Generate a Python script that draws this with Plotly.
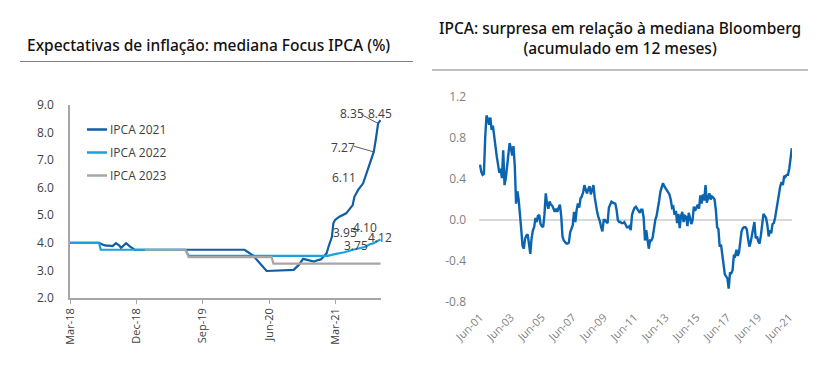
import plotly.graph_objects as go
import pandas as pd

# page body has an 8px margin: the figure is shrunk and all positions are offset by it
OFF = 8
W, H = 830 - 2 * OFF, 377 - 2 * OFF

# ---------------- Left chart data (Focus IPCA medians, %) ----------------
d2021 = ["2018-03-02", "2018-06-29", "2018-07-13", "2018-07-27", "2018-08-10", "2018-08-24",
         "2018-09-07", "2018-09-21", "2018-09-28", "2018-10-05", "2018-10-19", "2018-11-02",
         "2018-11-16", "2018-11-23", "2020-02-21", "2020-03-27", "2020-04-24", "2020-05-22",
         "2020-09-11", "2020-10-02", "2020-10-20", "2020-11-04", "2020-11-18", "2020-12-04",
         "2020-12-15", "2021-01-01", "2021-01-12", "2021-01-25", "2021-02-02", "2021-02-16",
         "2021-02-22", "2021-03-01", "2021-03-19", "2021-04-16", "2021-05-13", "2021-05-20",
         "2021-06-04", "2021-06-25", "2021-07-09", "2021-07-28", "2021-08-08", "2021-08-16",
         "2021-08-26", "2021-09-05"]
v2021 = [4.00, 4.00, 3.94, 3.90, 3.90, 3.88,
         3.99, 3.90, 3.82, 3.88, 3.99, 3.88,
         3.78, 3.75, 3.75, 3.54, 3.26, 2.98,
         3.02, 3.20, 3.42, 3.38, 3.34, 3.32,
         3.36, 3.40, 3.50, 3.62, 3.86, 4.22,
         4.71, 4.83, 4.95, 5.07, 5.37, 5.67,
         5.91, 6.16, 6.52, 7.06, 7.30, 7.72,
         8.33, 8.45]

d2022 = ["2018-03-02", "2018-06-29", "2018-07-06", "2019-06-21", "2019-07-05", "2021-01-08",
         "2021-01-29", "2021-03-05", "2021-04-09", "2021-05-14", "2021-06-11", "2021-07-02",
         "2021-07-23", "2021-08-06", "2021-08-20", "2021-09-05"]
v2022 = [4.00, 4.00, 3.75, 3.75, 3.53, 3.52,
         3.53, 3.60, 3.66, 3.75, 3.82, 3.85,
         3.95, 3.98, 4.05, 4.12]

d2023 = ["2019-01-04", "2019-06-21", "2019-07-05", "2020-06-12", "2020-06-19", "2021-09-05"]
v2023 = [3.75, 3.75, 3.48, 3.48, 3.25, 3.25]

series_names = ["IPCA 2021", "IPCA 2022", "IPCA 2023"]
left_ticks = ["2018-03-01", "2018-12-01", "2019-09-01", "2020-06-01", "2021-03-01"]

# ---------------- Right chart data (monthly surprise, p.p.) ----------------
surprise = [
    0.54, 0.47, 0.44, 0.45, 0.80, 1.02, 0.99,                                   # 2001 Jun-Dec
    0.93, 1.00, 0.88, 0.92, 0.80, 0.70, 0.62, 0.54, 0.46, 0.50, 0.41, 0.68,     # 2002
    0.34, 0.41, 0.52, 0.62, 0.75, 0.70, 0.63, 0.72, 0.52, 0.16, 0.28, 0.20,     # 2003
    0.08, -0.10, -0.25, -0.28, -0.18, -0.15, -0.14, -0.23, -0.33, -0.18, -0.10, -0.07,  # 2004
    0.02, -0.02, 0.04, 0.05, -0.04, -0.06, -0.07, 0.05, 0.26, 0.16, 0.11, 0.18,  # 2005
    0.15, 0.14, 0.10, 0.08, 0.11, 0.08, 0.12, 0.15, 0.04, -0.16, -0.20, -0.22,   # 2006
    -0.23, -0.23, -0.22, -0.12, -0.08, -0.05, 0.08, -0.02, 0.10, 0.16, 0.12, 0.21,  # 2007
    0.23, 0.27, 0.34, 0.29, 0.26, 0.30, 0.33, 0.25, 0.31, 0.34, 0.22, 0.12,     # 2008
    0.07, 0.02, -0.01, -0.07, -0.11, 0.00, 0.00, -0.02, -0.03, 0.12, 0.16, 0.18,  # 2009
    0.17, 0.16, 0.16, 0.10, 0.00, -0.02, -0.02, -0.03, -0.03, -0.02, -0.05, -0.07,  # 2010
    -0.07, -0.06, -0.10, 0.05, 0.09, 0.12, 0.13, 0.11, 0.09, 0.07, 0.10, 0.10,  # 2011
    0.02, -0.20, -0.10, -0.22, -0.28, -0.20, -0.20, -0.17, -0.07, 0.00, 0.04, 0.10,  # 2012
    0.19, 0.28, 0.33, 0.36, 0.33, 0.31, 0.30, 0.28, 0.25, 0.20, 0.12, 0.13,     # 2013
    0.05, 0.09, -0.03, 0.06, -0.08, 0.04, 0.08, -0.02, 0.04, 0.03, -0.06, 0.07,  # 2014
    0.01, -0.04, 0.00, 0.13, 0.09, 0.13, 0.15, 0.11, 0.24, 0.16, 0.25, 0.19,    # 2015
    0.34, 0.17, 0.22, 0.26, 0.20, 0.23, 0.22, 0.20, 0.10, -0.07, -0.09, -0.26,  # 2016
    -0.24, -0.34, -0.46, -0.53, -0.55, -0.57, -0.67, -0.52, -0.52, -0.49, -0.34, -0.35,  # 2017
    -0.29, -0.35, -0.32, -0.20, -0.11, -0.08, -0.07, -0.07, -0.09, -0.18, -0.26, -0.22,  # 2018
    -0.15, -0.05, -0.02, -0.18, -0.16, -0.21, -0.23, -0.15, -0.02, 0.06, 0.04, 0.02,  # 2019
    -0.05, -0.16, -0.10, -0.13, -0.04, -0.03, 0.02, 0.11, 0.16, 0.26, 0.33, 0.37,  # 2020
    0.34, 0.43, 0.42, 0.44, 0.44, 0.50, 0.63, 0.70,                             # 2021 Jan-Aug
]
surprise_dates = pd.date_range("2001-06-01", periods=len(surprise), freq="MS")
right_ticks = [f"{y}-06-01" for y in range(2001, 2022, 2)]
right_yvals = [-0.8, -0.4, 0.0, 0.4, 0.8, 1.2]
right_ytext = ["-0.8", "-0.4", "0.0", "0.4", "0.8", "1.2"]

C21, C22, C23 = "#125ea3", "#1ba1dc", "#a6a6a6"
COLORS = [C21, C22, C23]
FONT = "Open Sans"

fig = go.Figure()
for xs, ys, name, col in zip([d2021, d2022, d2023], [v2021, v2022, v2023], series_names, COLORS):
    fig.add_trace(go.Scatter(x=xs, y=ys, mode="lines", name=name, showlegend=False,
                             line=dict(color=col, width=2.2), xaxis="x", yaxis="y"))
fig.add_trace(go.Scatter(x=surprise_dates, y=surprise, mode="lines", showlegend=False,
                         line=dict(color="#0a64b0", width=2.4),
                         xaxis="x2", yaxis="y2"))

def px_x(p):
    return (p - OFF) / W

def px_y(p):
    return 1 - (p - OFF) / H

ann = []
TITLE_FONT = dict(family="Noto Sans", size=15.5, color="#111111", weight=500)
ann.append(dict(text="Expectativas de inflação: mediana Focus IPCA (%)", x=px_x(208), y=px_y(45),
                xref="paper", yref="paper", showarrow=False, xanchor="center", yanchor="middle",
                font=TITLE_FONT))
ann.append(dict(text="IPCA: surpresa em relação à mediana Bloomberg<br>(acumulado em 12 meses)",
                x=px_x(620), y=px_y(38.5), xref="paper", yref="paper", showarrow=False,
                xanchor="center", yanchor="middle", font=TITLE_FONT))

# legend (keys drawn as short lines, as in the reference)
shapes = []
for i, (name, col) in enumerate(zip(series_names, COLORS)):
    yy = 129.5 + i * 23
    shapes.append(dict(type="line", xref="paper", yref="paper", x0=px_x(87), x1=px_x(107),
                       y0=px_y(yy), y1=px_y(yy), line=dict(color=col, width=2.5)))
    ann.append(dict(text=name, x=px_x(108), y=px_y(yy), xref="paper", yref="paper",
                    showarrow=False, xanchor="left", yanchor="middle",
                    font=dict(family=FONT, size=12, color="#404040")))

lab_font = dict(family=FONT, size=12, color="#404040")
def lab(text, x, y, **kw):
    d = dict(text=text, x=x, y=y, xref="x", yref="y", showarrow=False, font=lab_font)
    d.update(kw)
    ann.append(d)

lab("8.35", "2021-05-08", 8.69)
lab("8.45", "2021-09-03", 8.69)
lab("7.27", "2021-04-03", 7.46)
lab("6.11", "2021-04-06", 6.37)
lab("3.95", "2021-04-13", 4.38)
lab("4.10", "2021-07-02", 4.56)
lab("4.12", "2021-09-03", 4.18)
lab("3.75", "2021-05-28", 3.92)
lab("3.25", "2021-09-14", 3.22)

def leader(x0, y0, x1, y1):
    ann.append(dict(x=x1, y=y1, ax=x0, ay=y0, xref="x", yref="y", axref="x", ayref="y",
                    text="", showarrow=True, arrowhead=0, arrowwidth=1, arrowcolor="#595959"))
leader("2021-06-10", 8.69, "2021-08-26", 8.33)
leader("2021-05-12", 7.52, "2021-08-08", 7.30)
leader("2021-05-14", 4.38, "2021-06-05", 4.45)
leader("2021-07-20", 4.40, "2021-08-12", 4.20)

shapes += [
    dict(type="line", xref="paper", yref="paper", x0=px_x(20), x1=px_x(413),
         y0=px_y(61.5), y1=px_y(61.5), line=dict(color="#808080", width=1)),
    dict(type="line", xref="paper", yref="paper", x0=px_x(432), x1=px_x(808),
         y0=px_y(70), y1=px_y(70), line=dict(color="#808080", width=1)),
]

fig.update_layout(
    width=W, height=H, margin=dict(l=0, r=0, t=0, b=0),
    paper_bgcolor="white", plot_bgcolor="white",
    font=dict(family=FONT, size=12, color="#404040"),
    showlegend=False,
    xaxis=dict(domain=[px_x(70), px_x(381)], anchor="y", type="date", automargin=False,
               range=["2018-03-01", "2021-09-07"], tickvals=left_ticks, tickformat="%b-%y",
               tickangle=-90, tickfont=dict(size=11, color="#404040"),
               showline=True, linecolor="#a6a6a6", linewidth=1.5, ticks="outside",
               ticklen=4, tickcolor="#a6a6a6", showgrid=False, zeroline=False),
    yaxis=dict(domain=[px_y(298), px_y(105)], anchor="x", range=[2, 9], dtick=1,
               automargin=False,
               tickformat=".1f", tickfont=dict(size=12, color="#404040"),
               showline=True, linecolor="#a6a6a6", linewidth=1.5, ticks="",
               ticklabelstandoff=12, showgrid=False, zeroline=False),
    xaxis2=dict(domain=[px_x(479), px_x(792)], anchor="y2", type="date", automargin=False,
                range=["2001-05-08", "2021-08-05"], tickvals=right_ticks, tickformat="%b-%y",
                tickangle=-45, tickfont=dict(size=11, color="#7f7f7f"),
                showline=False, ticks="", showgrid=False, zeroline=False,
                ticklabelstandoff=6),
    yaxis2=dict(domain=[px_y(302), px_y(97)], anchor="x2", range=[-0.8, 1.2],
                automargin=False,
                tickvals=right_yvals, ticktext=right_ytext,
                tickfont=dict(size=12, color="#7f7f7f"), showline=False, ticks="",
                showgrid=False, zeroline=True, zerolinecolor="#d9d9d9", zerolinewidth=1.5,
                ticklabelstandoff=12),
    annotations=ann, shapes=shapes,
)

fig.write_html("out.html")
